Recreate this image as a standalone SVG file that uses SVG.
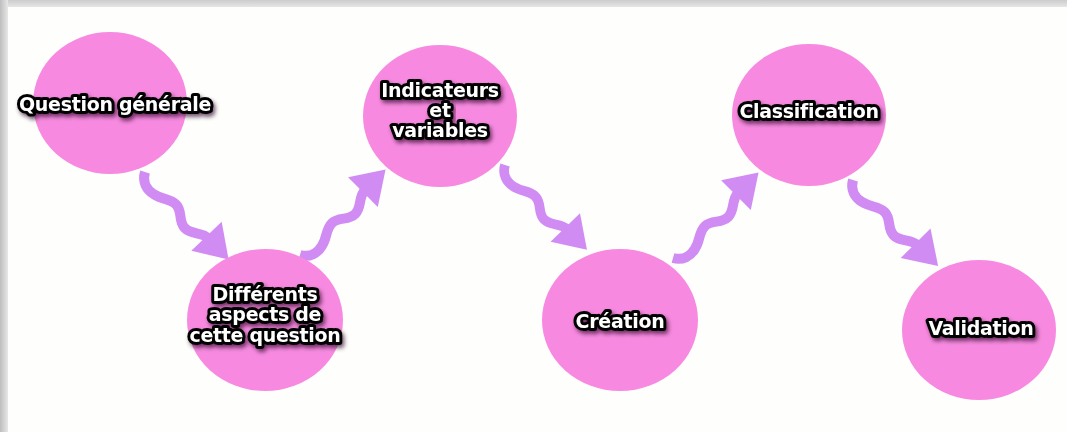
<svg xmlns="http://www.w3.org/2000/svg" width="1067" height="432" viewBox="0 0 1067 432">
  <style>
    .node { fill: #f78ae0; }
    .lbl { font-family: "DejaVu Sans", Verdana, sans-serif; font-weight: bold; font-size: 19px; letter-spacing: -0.3px; fill: #ffffff; stroke: #000000; stroke-width: 6; stroke-linejoin: round; paint-order: stroke; text-anchor: middle; filter: url(#shadow); }
    .shaft { fill: none; stroke: #d08cf3; stroke-width: 10; stroke-linecap: butt; }
    .head { fill: #d08cf3; }
  </style>
  <defs>
    <linearGradient id="gl" x1="0" y1="0" x2="1" y2="0">
      <stop offset="0" stop-color="#bdbdbd"/>
      <stop offset="1" stop-color="#e8e8e8"/>
    </linearGradient>
    <linearGradient id="gt" x1="0" y1="0" x2="0" y2="1">
      <stop offset="0" stop-color="#cccccc"/>
      <stop offset="1" stop-color="#e6e6e6"/>
    </linearGradient>
    <filter id="shadow" x="-20%" y="-40%" width="140%" height="200%">
      <feDropShadow dx="2" dy="3" stdDeviation="2" flood-color="#2a0024" flood-opacity="0.65"/>
    </filter>
    <g id="arrow">
      <path class="shaft" d="M0,0 C5,9 14,11 22,9 C32,7 36,0 45,0 C55,0 58,10 68,10 C78,10 82,0 92,0 L94,0"/>
      <polygon class="head" points="89,-21 121,0 89,21"/>
    </g>
  </defs>

  <rect x="0" y="0" width="1067" height="432" fill="#fefefd"/>
  <rect x="0" y="0" width="1067" height="7" fill="url(#gt)"/>
  <rect x="0" y="0" width="8" height="432" fill="url(#gl)"/>

  <g id="connectors">
    <use href="#arrow" transform="translate(145,172) rotate(46.3)"/>
    <use href="#arrow" transform="translate(300,255) rotate(-45)"/>
    <use href="#arrow" transform="translate(505,165) rotate(46) scale(0.975)"/>
    <use href="#arrow" transform="translate(673,258) rotate(-45)"/>
    <use href="#arrow" transform="translate(853,180) rotate(45.3)"/>
  </g>

  <g id="node-question">
    <ellipse class="node" cx="110" cy="103" rx="77" ry="71"/>
    <text class="lbl" x="115" y="111">Question générale</text>
  </g>
  <g id="node-aspects">
    <ellipse class="node" cx="265" cy="320" rx="78" ry="71"/>
    <text class="lbl" x="265" y="301">Différents</text>
    <text class="lbl" x="265" y="321">aspects de</text>
    <text class="lbl" x="265" y="342">cette question</text>
  </g>
  <g id="node-indicateurs">
    <ellipse class="node" cx="440" cy="116" rx="77" ry="71"/>
    <text class="lbl" x="440" y="97">Indicateurs</text>
    <text class="lbl" x="440" y="117">et</text>
    <text class="lbl" x="440" y="137">variables</text>
  </g>
  <g id="node-creation">
    <ellipse class="node" cx="620" cy="320" rx="78" ry="71"/>
    <text class="lbl" x="620" y="328">Création</text>
  </g>
  <g id="node-classification">
    <ellipse class="node" cx="809" cy="115" rx="77" ry="71"/>
    <text class="lbl" x="809" y="118">Classification</text>
  </g>
  <g id="node-validation">
    <ellipse class="node" cx="979" cy="330" rx="77" ry="70"/>
    <text class="lbl" x="981" y="335">Validation</text>
  </g>
</svg>
